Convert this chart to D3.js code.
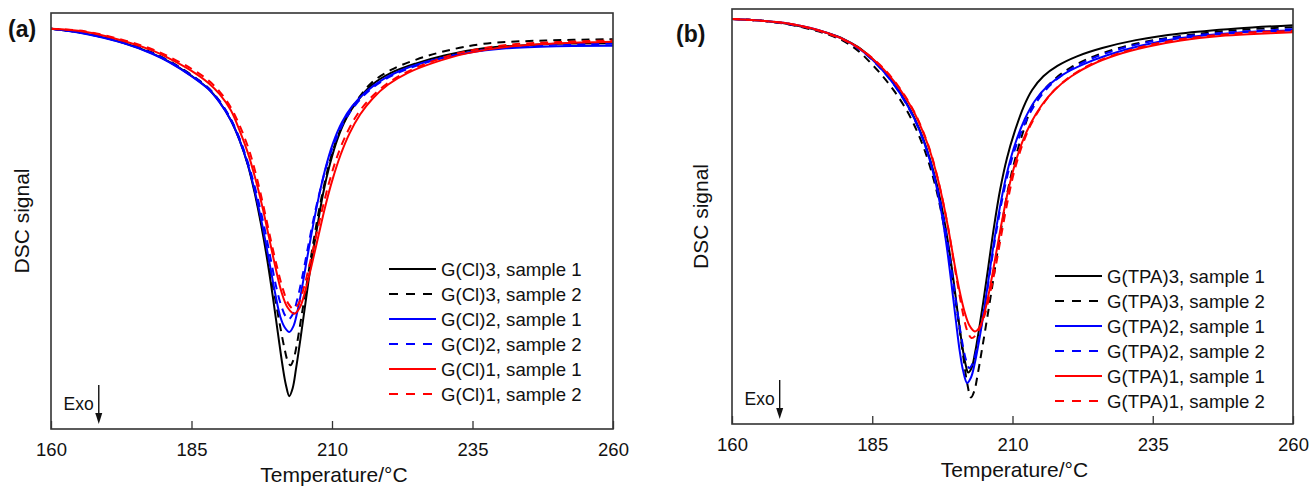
<!DOCTYPE html>
<html>
<head>
<meta charset="utf-8">
<script src="https://cdn.jsdelivr.net/npm/d3@7"></script>
<style>
    body { margin: 0; background: #fff; }
    svg text { font-family: "Liberation Sans", Arial, Helvetica, sans-serif; fill: #111; }
</style>
</head>
<body>
<div id="wrapper"></div>
<script>

// temperature ticks (°C)
const xTicks = [160, 185, 210, 235, 260]

// legend labels
const labelsA = ['G(Cl)3, sample 1', 'G(Cl)3, sample 2', 'G(Cl)2, sample 1', 'G(Cl)2, sample 2', 'G(Cl)1, sample 1', 'G(Cl)1, sample 2']
const labelsB = ['G(TPA)3, sample 1', 'G(TPA)3, sample 2', 'G(TPA)2, sample 1', 'G(TPA)2, sample 2', 'G(TPA)1, sample 1', 'G(TPA)1, sample 2']

// DSC signal, arbitrary units (0 = bottom of frame, 100 = top), [temperature, signal]
const a_G3s1 = [[160,96.2],[166,95.1],[173,92.8],[178,90.3],[181,88.3],[185,84.9],[188,81.8],[190,78.6],[192,74.2],[193.5,69.6],[195,63.6],[196.2,57],[197.4,49],[198.5,40.5],[199.5,31.5],[200.4,22.8],[201.2,15.2],[201.8,10.6],[202.4,7.9],[203,9.8],[203.6,14.5],[204.4,21.8],[205.3,30.5],[206.3,40],[207.3,48],[208.4,56.5],[209.6,63.5],[211,69.8],[212.6,74.8],[214.5,78.8],[217,82.6],[220.5,85.6],[225,87.9],[230,89.8],[237,91.5],[248,92.5],[260,92.7]]
const a_G3s2 = [[160,96.2],[166,95.2],[173,92.9],[178,90.5],[181,88.5],[185,85.1],[188,82],[190,78.8],[192,74.4],[193.5,69.8],[195,63.8],[196.3,57],[197.5,49],[198.7,40.5],[199.8,32],[200.8,24.5],[201.6,19],[202.1,16.4],[202.6,15.3],[203.1,16.5],[203.7,20],[204.5,26.5],[205.4,34],[206.4,42.5],[207.4,50.5],[208.5,58],[209.7,64.8],[211.1,70.6],[212.7,75.3],[214.6,79.3],[217,83.2],[220.5,86.3],[225,88.8],[230,90.8],[237,92.6],[248,93.4],[260,93.7]]
const a_G2s1 = [[160,96.2],[166,95.0],[173,92.7],[178,90.2],[181,88.2],[185,84.8],[188,81.7],[190,78.5],[192,74.2],[193.5,69.6],[195,63.7],[196.3,57],[197.6,49],[198.8,40.5],[199.9,32.5],[200.8,27],[201.6,24.4],[202.4,23.3],[203.1,24.6],[203.8,28],[204.6,33.5],[205.5,40.5],[206.5,48],[207.6,55.5],[208.8,62.5],[210.2,68.8],[211.8,73.8],[213.6,77.6],[216,81],[219,84],[223,86.6],[228,88.7],[234,90.4],[241,91.5],[250,92],[260,92.1]]
const a_G2s2 = [[160,96.2],[166,95.1],[173,92.8],[178,90.4],[181,88.4],[185,85],[188,81.9],[190,78.8],[192,74.5],[193.5,70],[195,64.2],[196.4,57.5],[197.8,49.5],[199,41.5],[200.1,34],[201,29.5],[201.7,27.2],[202.3,26.4],[203,27.5],[203.8,31],[204.7,36.5],[205.7,43.5],[206.8,51],[208,58],[209.3,64.5],[210.8,70],[212.4,74.5],[214.4,78.3],[217,81.8],[220.5,84.8],[225,87.3],[230,89.3],[236,90.9],[243,91.9],[250,92.4],[260,92.6]]
const a_G1s1 = [[160,96.2],[166,95.5],[173.4,93.1],[178,91],[181,89.1],[185,86.1],[188,83.2],[190,80.5],[192,76.6],[193.6,71.6],[195,66.5],[196.3,60.5],[197.6,53.5],[198.8,46],[200,38.5],[201,33],[202.1,29.2],[203.3,27.7],[204.3,29.3],[205.3,33.5],[206.4,39.5],[207.6,46.5],[208.8,53.5],[210.1,60],[211.5,65.8],[213.1,71],[215,75.6],[217.2,79.4],[220,82.8],[223.5,85.6],[228,88],[234,90.3],[242,92],[250,92.7],[260,93.1]]
const a_G1s2 = [[160,96.2],[166,95.6],[173.4,93.3],[178,91.3],[181,89.5],[185,86.6],[188,83.8],[190,81.1],[192,77.3],[193.8,72.2],[195.3,66.8],[196.6,60.5],[197.9,53],[199.1,45.5],[200.3,38.5],[201.3,33.5],[202.2,30.2],[203.1,28.9],[204,30],[205,34],[206,39.5],[207.1,46],[208.3,53],[209.6,59.8],[211,65.8],[212.6,71],[214.5,75.6],[216.8,79.5],[219.6,82.8],[223,85.6],[227.5,88.2],[233,90.5],[241,92.3],[250,93],[260,93.4]]

const b_G3s1 = [[160,97.6],[165,97.2],[170,96.4],[174,95.3],[177,94.2],[180,92.7],[182.5,90.8],[185,88],[187,85.2],[189,81.8],[191,77.6],[192.5,73.8],[194,69],[195.3,63.8],[196.5,57.8],[197.6,50.8],[198.6,43],[199.5,34.5],[200.3,26],[201,19.2],[201.6,14.6],[202.1,12.4],[202.7,13.5],[203.3,17],[204,22.5],[204.8,29.5],[205.7,38],[206.7,47.5],[207.8,56.5],[209,64],[210.4,70.5],[212,76.5],[213.5,80.5],[215.5,83.8],[218,86.3],[221.5,88.6],[226,90.6],[232,92.5],[240,94.1],[250,95.3],[260,96.1]]
const b_G3s2 = [[160,97.6],[165,97.2],[170,96.3],[174,95.1],[177,93.9],[180,92.2],[182.5,89.9],[185,86.6],[187,83.6],[189,80.1],[191,75.9],[192.5,72],[194,67.2],[195.3,62],[196.5,56],[197.6,49],[198.6,41],[199.6,32],[200.5,23.5],[201.3,15.5],[201.9,10],[202.6,6.4],[203.2,8],[203.8,12],[204.5,17.5],[205.3,24],[206.2,31.5],[207.1,39.5],[208.1,48],[209.2,56.5],[210.4,63.5],[211.8,70],[213.4,76.2],[215.3,80],[217.6,83.2],[220.5,86],[224.5,88.6],[230,91],[237,92.9],[245,94.3],[252,95.1],[260,95.6]]
const b_G2s1 = [[160,97.6],[165,97.2],[170,96.5],[174,95.4],[177,94.2],[180,92.6],[182.5,90.6],[185,87.8],[187,85],[189,81.6],[191,77.4],[192.5,73.6],[194,68.8],[195.3,63.4],[196.4,57.5],[197.4,50.5],[198.3,42.5],[199.1,34],[199.9,25],[200.6,17.5],[201.2,12.8],[201.9,9.9],[202.6,11.2],[203.3,14.8],[204.1,20.5],[205,28],[205.9,36.5],[206.9,45.5],[208,54],[209.2,61.5],[210.6,68],[212.2,73.5],[214,77.9],[216.3,81.5],[219,84.2],[222.5,86.6],[227,88.9],[233,91.2],[240,93],[250,94.3],[260,94.8]]
const b_G2s2 = [[160,97.6],[165,97.2],[170,96.4],[174,95.3],[177,94.1],[180,92.5],[182.5,90.5],[185,87.7],[187,84.9],[189,81.5],[191,77.3],[192.5,73.5],[194,68.7],[195.3,63.4],[196.5,57.4],[197.6,50.4],[198.5,43],[199.4,34.5],[200.3,26],[201,20],[201.7,15.5],[202.3,13.5],[202.9,14.6],[203.6,18],[204.4,23.5],[205.3,30.5],[206.2,38.5],[207.2,47],[208.3,55],[209.5,62],[210.9,68],[212.5,73.3],[214.4,77.8],[216.7,81.6],[219.5,84.7],[223,87.4],[227.5,89.7],[233,91.7],[240,93.3],[250,94.5],[260,95.1]]
const b_G1s1 = [[160,97.6],[165,97.2],[170,96.5],[174,95.4],[177,94.2],[180,92.6],[182.5,90.7],[185,88.1],[187,85.5],[189,82.4],[191,78.5],[192.5,75],[194,70.5],[195.4,65.3],[196.6,59.5],[197.7,53],[198.7,46],[199.6,39],[200.5,32.5],[201.4,27.3],[202.3,23.8],[203.3,22.3],[204.2,23.5],[205.1,27.3],[206,33],[207,40.5],[208,48],[209.1,55.5],[210.3,62],[211.7,67.8],[213.3,72.6],[215.2,76.8],[217.5,80.5],[220.5,83.8],[224,86.5],[228.5,88.9],[234,90.9],[240,92.4],[247,93.5],[253,94],[260,94.4]]
const b_G1s2 = [[160,97.6],[165,97.2],[170,96.5],[174,95.3],[177,94.1],[180,92.5],[182.5,90.7],[185,88.2],[187,85.7],[189,82.6],[191,78.7],[192.5,75.2],[194,70.7],[195.4,65.5],[196.6,59.6],[197.7,53],[198.7,46],[199.6,38.5],[200.5,31.5],[201.3,25.8],[202,22.2],[202.7,20.7],[203.4,21.3],[204.2,23.2],[205.1,26.5],[206,31.5],[207,38],[208,45.5],[209.1,53.5],[210.3,60.8],[211.7,67],[213.3,72.2],[215.2,76.6],[217.5,80.5],[220.5,83.9],[224,86.7],[228.5,89.1],[234,91.2],[240,92.7],[247,93.8],[253,94.4],[260,94.7]]

// line styles, same order as the legend
const lineColors = ['#000', '#000', '#0000ff', '#0000ff', '#ff0000', '#ff0000']
const lineDashed = [false, true, false, true, false, true]

function drawChart() {

    //#region 1- canvas
    const wrapper = d3.select('#wrapper')
        .append('svg')
        .attr('width', 1309)
        .attr('height', 486)
    //#endregion

    drawPanel(wrapper, {
        tag: '(a)', tagX: 8, tagY: 37,
        left: 51, right: 613, top: 13, bottom: 429,
        yTitleX: 29,
        series: [a_G3s1, a_G3s2, a_G2s1, a_G2s2, a_G1s1, a_G1s2],
        labels: labelsA,
        legendX: 389, legendY: 269
    })

    drawPanel(wrapper, {
        tag: '(b)', tagX: 676, tagY: 42,
        left: 732, right: 1293, top: 9, bottom: 424,
        yTitleX: 708,
        series: [b_G3s1, b_G3s2, b_G2s1, b_G2s2, b_G1s1, b_G1s2],
        labels: labelsB,
        legendX: 1055, legendY: 276
    })
}

function drawPanel(svg, cfg) {

    //#region 2- scales
    const xScale = d3.scaleLinear().domain([160, 260]).range([cfg.left, cfg.right])
    const yScale = d3.scaleLinear().domain([0, 100]).range([cfg.bottom, cfg.top])

    const lineGenerator = d3.line()
        .x(d => xScale(d[0]))
        .y(d => yScale(d[1]))
        .curve(d3.curveCatmullRom.alpha(0.5))
    //#endregion

    const g = svg.append('g')

    //#region 3- draw data
    g.append('defs').append('clipPath')
        .attr('id', 'clip' + cfg.left)
        .append('rect')
        .attr('x', cfg.left).attr('y', cfg.top)
        .attr('width', cfg.right - cfg.left).attr('height', cfg.bottom - cfg.top)

    g.append('g')
        .attr('clip-path', `url(#clip${cfg.left})`)
        .selectAll('.curve')
        .data(cfg.series)
        .enter().append('path')
        .attr('class', 'curve')
        .attr('d', lineGenerator)
        .attr('fill', 'none')
        .attr('stroke', (d, i) => lineColors[i])
        .attr('stroke-width', 2)
        .attr('stroke-dasharray', (d, i) => lineDashed[i] ? '8,6' : null)
    //#endregion

    //#region 4- peripherals
    // frame
    g.append('rect')
        .attr('x', cfg.left).attr('y', cfg.top)
        .attr('width', cfg.right - cfg.left).attr('height', cfg.bottom - cfg.top)
        .attr('fill', 'none')
        .attr('stroke', '#333')
        .attr('stroke-width', 1.6)

    // inner ticks on the bottom axis
    const xAxis = d3.axisBottom(xScale)
        .tickValues(xTicks)
        .tickSizeInner(-8)
        .tickSizeOuter(0)
        .tickPadding(14)
    const axisG = g.append('g')
        .attr('transform', `translate(0,${cfg.bottom})`)
        .call(xAxis)
    axisG.select('.domain').remove()
    axisG.selectAll('.tick line').attr('stroke', '#333').attr('stroke-width', 1.3)
    axisG.selectAll('.tick text')
        .attr('font-size', 18.5)
        .attr('font-family', '"Liberation Sans", Arial, sans-serif')
        .attr('fill', '#111')
        .attr('dy', '0.71em')

    // axis titles
    g.append('text')
        .attr('x', (cfg.left + cfg.right) / 2 + 2)
        .attr('y', cfg.bottom + 53)
        .attr('text-anchor', 'middle')
        .attr('font-size', 21)
        .text('Temperature/°C')

    g.append('text')
        .attr('transform', `translate(${cfg.yTitleX},${(cfg.top + cfg.bottom) / 2}) rotate(-90)`)
        .attr('text-anchor', 'middle')
        .attr('font-size', 21)
        .text('DSC signal')

    // panel tag
    g.append('text')
        .attr('x', cfg.tagX).attr('y', cfg.tagY)
        .attr('font-size', 23)
        .attr('font-weight', 'bold')
        .text(cfg.tag)

    // Exo arrow
    const arrowX = xScale(168.5)
    g.append('line')
        .attr('x1', arrowX).attr('x2', arrowX)
        .attr('y1', cfg.bottom - 44).attr('y2', cfg.bottom - 14)
        .attr('stroke', '#111').attr('stroke-width', 1.4)
    g.append('path')
        .attr('d', `M${arrowX - 3.5},${cfg.bottom - 16} L${arrowX + 3.5},${cfg.bottom - 16} L${arrowX},${cfg.bottom - 5} Z`)
        .attr('fill', '#111')
    g.append('text')
        .attr('x', arrowX - 5).attr('y', cfg.bottom - 19)
        .attr('text-anchor', 'end')
        .attr('font-size', 17.5)
        .text('Exo')

    // legend
    const legend = g.selectAll('.legend-item')
        .data(cfg.labels)
        .enter().append('g')
        .attr('class', 'legend-item')
        .attr('transform', (d, i) => `translate(${cfg.legendX},${cfg.legendY + i * 25})`)
    legend.append('line')
        .attr('x1', 0).attr('x2', 47)
        .attr('stroke', (d, i) => lineColors[i])
        .attr('stroke-width', 2)
        .attr('stroke-dasharray', (d, i) => lineDashed[i] ? '9,8' : null)
    legend.append('text')
        .attr('x', 52).attr('y', 6.5)
        .attr('font-size', 18.6)
        .text(d => d)
    //#endregion
}

drawChart()

</script>
</body>
</html>
